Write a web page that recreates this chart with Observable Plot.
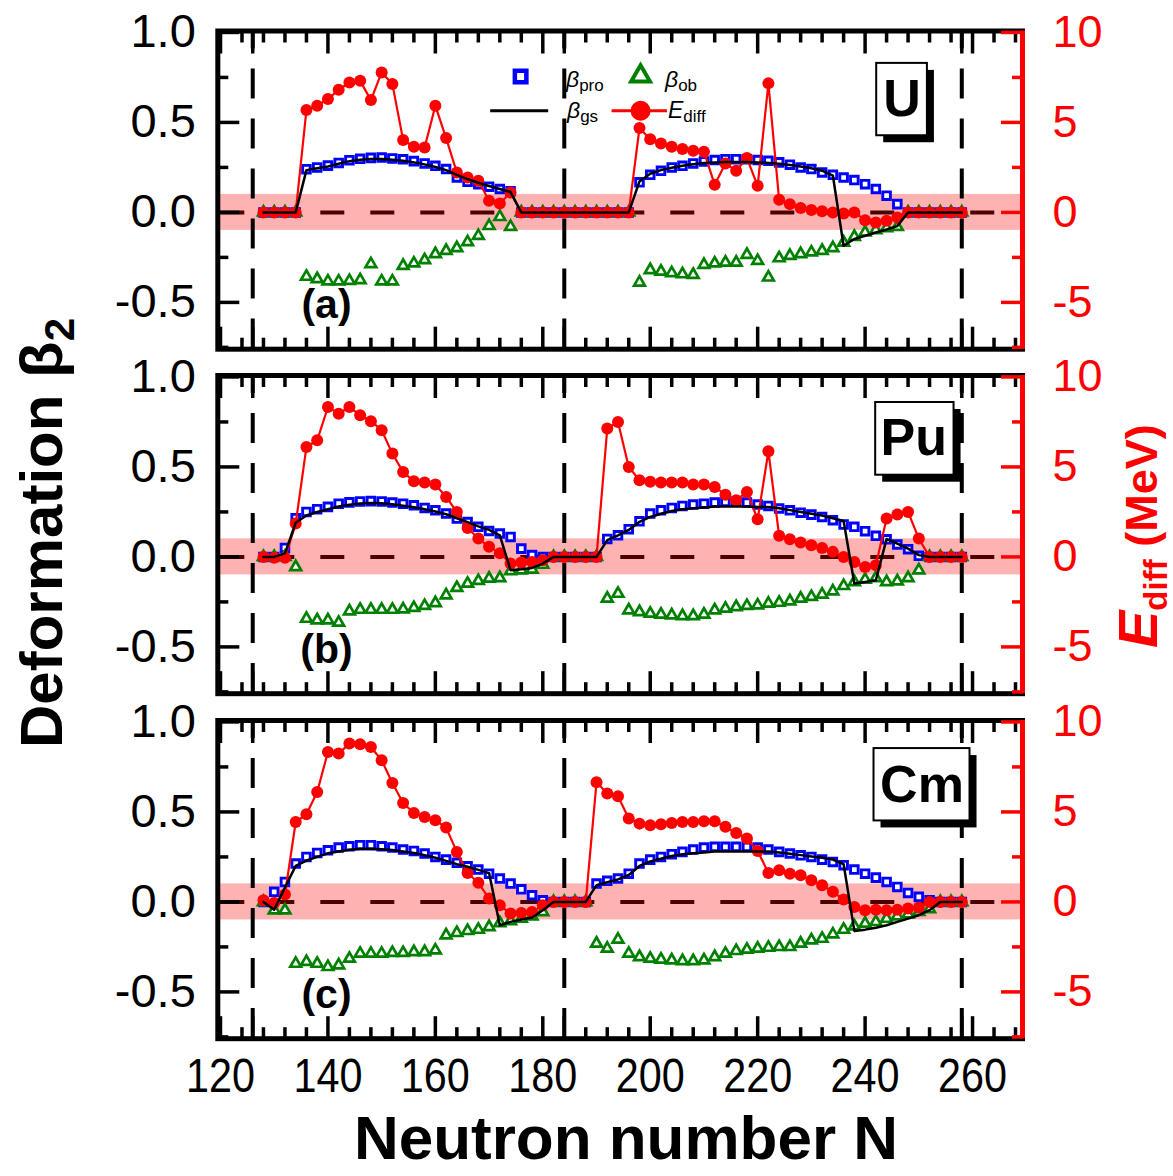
<!DOCTYPE html>
<html>
<head>
<meta charset="utf-8">
<script src="https://cdn.jsdelivr.net/npm/d3@7"></script>
<script src="https://cdn.jsdelivr.net/npm/@observablehq/plot@0.6"></script>
<style>
  html, body { margin: 0; padding: 0; background: #fff; }
  #fig { position: relative; width: 1173px; height: 1176px; overflow: hidden; background: #fff; }
</style>
</head>
<body>
<div id="fig"></div>
<script>
// ---------------- data ----------------
const N = [128,130,132,134,136,138,140,142,144,146,148,150,152,154,156,158,160,162,164,166,168,170,172,174,176,178,180,182,184,186,188,190,192,194,196,198,200,202,204,206,208,210,212,214,216,218,220,222,224,226,228,230,232,234,236,238,240,242,244,246,248,250,252,254,256,258];

// U (Z=92)
const U_pro = [0,0,0,0,
  .240,.250,.260,.275,.290,.298,.303,.305,.300,.295,.285,.272,.259,.241,.194,.170,.157,.143,.130,.118,
  0,0,0,0,0,0,0,0,0,0,0,
  .167,.209,.231,.250,.259,.272,.283,.291,.296,.296,.296,.291,.287,.278,.265,.250,.241,.222,.209,.194,.180,.157,.130,.093,.046,
  0,0,0,0,0,0];
const U_gs = [0,0,0,0,
  .235,.245,.255,.270,.285,.292,.297,.297,.292,.287,.278,.267,.252,.235,.209,.185,.165,.147,.130,.113,
  0,0,0,0,0,0,0,0,0,0,0,
  .172,.215,.235,.248,.259,.267,.274,.278,.280,.280,.280,.278,.275,.270,.263,.255,.245,.232,.205,-.185,-.148,-.130,-.112,-.095,-.076,
  0,0,0,0,0,0];
const U_ob = [0,0,0,0,
  -.357,-.370,-.383,-.383,-.380,-.376,-.287,-.383,-.383,-.296,-.283,-.265,-.231,-.213,-.198,-.165,-.130,-.075,-.025,-.080,
  0,0,0,0,0,0,0,0,0,0,0,
  -.389,-.320,-.328,-.337,-.343,-.346,-.291,-.283,-.278,-.278,-.235,-.269,-.361,-.254,-.241,-.231,-.222,-.213,-.198,-.167,-.135,-.111,-.098,-.087,-.080,
  0,0,0,0,0,0];
const U_E = [0,0,0,0,
  5.69,5.93,6.30,6.81,7.22,7.31,6.24,7.78,7.13,4.02,3.65,3.61,5.93,4.13,2.22,1.94,1.76,0.65,0.50,1.11,
  0,0,0,0,0,0,0,0,0,0,0,
  4.69,4.07,3.83,3.65,3.52,3.43,3.37,1.54,2.72,2.31,3.02,1.48,7.17,0.70,0.46,0.24,0.13,0.06,0.00,-0.06,0.00,-0.43,-0.56,-0.46,-0.28,
  0,0,0,0,0,0];

// Pu (Z=94)
const Pu_pro = [0,0,.050,.215,
  .250,.265,.278,.296,.303,.308,.310,.308,.302,.296,.287,.272,.259,.241,.213,.194,.167,.144,.130,.111,
  .046,.010,0,0,0,0,0,0,
  .100,.120,.154,.198,.241,.259,.272,.283,.291,.296,.302,.306,.306,.302,.291,.283,.269,.259,.246,.235,.222,.204,.180,.167,.143,.117,.098,.069,.043,.006,
  0,0,0,0];
const Pu_gs = [0,0,.020,.190,
  .230,.250,.265,.280,.290,.297,.300,.298,.292,.285,.276,.265,.252,.237,.215,.193,.170,.150,.120,-.074,
  -.069,-.061,-.037,0,0,0,0,0,
  .093,.120,.150,.195,.222,.240,.255,.265,.270,.275,.280,.280,.280,.280,.278,.277,.270,.260,.250,.240,.230,.215,.200,-.148,-.139,-.130,.100,.074,.046,.010,
  0,0,0,0];
const Pu_ob = [0,0,0,-.056,
  -.343,-.352,-.352,-.365,-.302,-.293,-.293,-.293,-.293,-.291,-.283,-.272,-.256,-.213,-.172,-.148,-.133,-.120,-.117,-.078,
  -.074,-.070,-.043,0,0,0,0,0,
  -.231,-.204,-.296,-.306,-.315,-.320,-.324,-.328,-.328,-.320,-.296,-.287,-.278,-.272,-.269,-.259,-.254,-.246,-.231,-.222,-.209,-.191,-.161,-.139,-.126,-.117,-.139,-.135,-.117,-.074,
  0,0,0,0];
const Pu_E = [0,-0.05,-0.05,1.85,
  6.11,6.48,8.33,7.96,8.33,7.87,7.54,7.04,5.74,4.72,4.20,4.13,4.02,3.33,2.50,1.61,1.02,0.56,0.20,-0.37,
  -0.31,-0.28,-0.18,0,0,0,0,0,
  7.13,7.50,5.00,4.26,4.17,4.13,4.13,4.13,4.02,4.02,3.89,3.46,3.15,3.61,2.09,5.87,1.17,0.98,0.80,0.65,0.50,0.28,0.00,-0.28,-0.56,-0.46,2.13,2.35,2.50,1.02,
  0,0,0,0];

// Cm (Z=96)
const Cm_pro = [0,.056,.111,.213,
  .250,.272,.287,.302,.309,.315,.315,.309,.302,.291,.283,.269,.250,.235,.217,.198,.180,.157,.130,.102,
  .070,.037,.009,0,0,0,0,
  .102,.117,.130,.157,.213,.235,.250,.265,.278,.291,.302,.306,.306,.306,.306,.302,.291,.278,.269,.259,.250,.235,.222,.204,.180,.157,.135,.111,.083,.050,.028,.009,
  0,0,0];
const Cm_gs = [0,-.043,.080,.200,
  .230,.250,.270,.280,.290,.295,.295,.293,.288,.280,.272,.260,.245,.228,.210,.195,.178,.160,-.130,-.111,
  -.098,-.087,-.046,0,0,0,0,
  .093,.110,.125,.150,.200,.225,.240,.255,.265,.270,.275,.280,.280,.280,.280,.280,.280,.275,.268,.260,.252,.245,.235,.210,-.161,-.154,-.143,-.130,-.111,-.093,-.074,-.046,
  0,0,0];
const Cm_ob = [0,-.046,-.046,-.343,
  -.333,-.343,-.361,-.352,-.315,-.287,-.287,-.287,-.283,-.283,-.278,-.278,-.269,-.185,-.172,-.161,-.154,-.139,-.117,-.106,
  -.093,-.080,-.056,0,0,0,0,
  -.231,-.259,-.209,-.287,-.306,-.315,-.320,-.324,-.328,-.328,-.324,-.306,-.287,-.272,-.265,-.259,-.254,-.250,-.250,-.231,-.213,-.204,-.180,-.154,-.135,-.120,-.111,-.093,-.080,-.069,-.055,-.040,
  0,0,0];
const Cm_E = [0.09,-0.06,0.41,4.44,
  4.87,6.11,8.33,8.24,8.80,8.76,8.61,7.87,6.61,5.50,4.94,4.72,4.54,4.13,2.78,1.61,1.06,0.19,-0.19,-0.65,
  -0.61,-0.56,-0.19,0,0,0,0,
  6.65,6.02,5.87,4.63,4.35,4.26,4.31,4.39,4.44,4.44,4.48,4.48,4.17,3.83,3.52,2.83,1.61,1.76,1.57,1.48,1.20,0.93,0.56,0.13,-0.28,-0.46,-0.43,-0.46,-0.43,-0.37,-0.31,0.00,
  0,0,0];

// reference lines / ticks
const magicN = [126, 184, 258];
const bandHalf = 0.1;           // +/- 1 MeV band (in beta units)
const eScale = 10;              // right axis: E = 10 * beta
const xLabelTicks = [120,140,160,180,200,220,240,260];
const xMajorTicks = [120,126,140,160,180,184,200,220,240,258,260];
const xMinorTicks = [124,128,132,136,144,148,152,156,164,168,172,176,188,192,196,204,208,212,216,224,228,232,236,244,248,252,256,264,268];
const yMajorTicks = [-0.5, 0, 0.5, 1.0];
const yMinorTicks = [-0.75, -0.25, 0.25, 0.75];

// ---------------- layout ----------------
const FONT = '"Liberation Sans", Arial, Helvetica, sans-serif';
const W = 1173;
const xDomain = [119.5, 269.3];
const yDomain = [-0.76, 1.008];
const frameH = 318.2;
const mL = 217.3, mR = W - 1022;
const fig = document.getElementById("fig");

const panels = [
  {letter: "(a)", pro: U_pro, gs: U_gs, ob: U_ob, E: U_E, top: 0, mt: 30.5, mb: 20, legend: true,
   box: {label: "U", x1: 242.16, x2: 251.6, y1: 0.426, y2: 0.828, cx: 246.89, cy: 0.626}},
  {letter: "(b)", pro: Pu_pro, gs: Pu_gs, ob: Pu_ob, E: Pu_E, top: 345, mt: 30, mb: 20,
   box: {label: "Pu", x1: 241.97, x2: 256.56, y1: 0.454, y2: 0.858, cx: 249.05, cy: 0.659}},
  {letter: "(c)", pro: Cm_pro, gs: Cm_gs, ob: Cm_ob, E: Cm_E, top: 690, mt: 30, mb: 137.8, xLabels: true,
   box: {label: "Cm", x1: 241.66, x2: 259.53, y1: 0.450, y2: 0.852, cx: 250.59, cy: 0.648}}
];

const legendPos = {
  pro: {x: 175.87, y: 0.755},
  ob: {x: 198.2, y: 0.757},
  gs: {x1: 170.3, x2: 181.1, y: 0.565},
  E: {x1: 192.9, x2: 203.2, cx: 198.2, y: 0.565}
};

function tickAxes() {
  const tw = 3.5;
  const none = () => "";
  return [
    Plot.axisX(xMajorTicks, {anchor: "top", tickSize: 22, dy: 22, tickFormat: none, label: null, strokeWidth: tw}),
    Plot.axisX(xMinorTicks, {anchor: "top", tickSize: 11, dy: 11, tickFormat: none, label: null, strokeWidth: tw}),
    Plot.axisX(xMajorTicks, {anchor: "bottom", tickSize: 22, dy: -22, tickFormat: none, label: null, strokeWidth: tw}),
    Plot.axisX(xMinorTicks, {anchor: "bottom", tickSize: 11, dy: -11, tickFormat: none, label: null, strokeWidth: tw}),
    Plot.axisY(yMajorTicks, {anchor: "left", tickSize: 22, dx: 22, tickFormat: none, label: null, strokeWidth: tw}),
    Plot.axisY(yMinorTicks, {anchor: "left", tickSize: 11, dx: 11, tickFormat: none, label: null, strokeWidth: tw}),
    Plot.ruleX([xDomain[1]], {stroke: "#ff0000", strokeWidth: 5}),
    Plot.axisY(yMajorTicks, {anchor: "right", tickSize: 22, dx: -22, tickFormat: none, label: null, stroke: "#ff0000", strokeWidth: tw}),
    Plot.axisY(yMinorTicks, {anchor: "right", tickSize: 11, dx: -11, tickFormat: none, label: null, stroke: "#ff0000", strokeWidth: tw}),
    Plot.axisY(yMajorTicks, {anchor: "left", tickSize: 0, tickPadding: 22, tickFormat: d => d.toFixed(1), label: null, fontSize: 47, fill: "black"}),
    Plot.axisY(yMajorTicks, {anchor: "right", tickSize: 0, tickPadding: 30, tickFormat: d => String(Math.round(d * eScale)), label: null, fontSize: 45, fill: "#ff0000"})
  ];
}

for (const p of panels) {
  const rows = N.map((n, i) => ({N: n, pro: p.pro[i], gs: p.gs[i], ob: p.ob[i], E: p.E[i]}));
  const marks = [
    Plot.ruleY([0], {stroke: "black", strokeWidth: 4, strokeDasharray: "24,26", strokeDashoffset: -3}),
    Plot.rect([0], {y1: -bandHalf, y2: bandHalf, fill: "#ff0000", fillOpacity: 0.3}),
    Plot.ruleX(magicN, {stroke: "black", strokeWidth: 4, strokeDasharray: "30,20", strokeDashoffset: 12}),
    Plot.dot(rows, {x: "N", y: "pro", symbol: "square", r: 4.3, stroke: "#0000ff", strokeWidth: 2.9, fill: "white"}),
    Plot.dot(rows, {x: "N", y: "ob", symbol: "triangle", r: 4.0, stroke: "#008000", strokeWidth: 2.7, fill: "white"}),
    Plot.line(rows, {x: "N", y: d => d.E / eScale, stroke: "#ff0000", strokeWidth: 2.2}),
    Plot.dot(rows, {x: "N", y: d => d.E / eScale, r: 6, fill: "#ff0000"}),
    Plot.line(rows, {x: "N", y: "gs", stroke: "black", strokeWidth: 2.5}),
    Plot.frame({stroke: "black", strokeWidth: 5}),
    ...tickAxes(),
    Plot.text([p.letter], {frameAnchor: "bottom-left", textAnchor: "middle", lineAnchor: "middle", dx: 108.7, dy: -44, text: d => d, fontSize: 41, fontWeight: "bold", fill: "black"}),
    Plot.rect([p.box], {x1: "x1", x2: "x2", y1: "y1", y2: "y2", fill: "black", dx: 7, dy: 7}),
    Plot.rect([p.box], {x1: "x1", x2: "x2", y1: "y1", y2: "y2", fill: "white", stroke: "black", strokeWidth: 2}),
    Plot.text([p.box], {x: "cx", y: "cy", text: "label", fontSize: 52, fontWeight: "bold", fill: "black"})
  ];
  if (p.legend) {
    marks.push(
      Plot.dot([legendPos.pro], {x: "x", y: "y", symbol: "square", r: 6.5, stroke: "#0000ff", strokeWidth: 4.5, fill: "white"}),
      Plot.dot([legendPos.ob], {x: "x", y: "y", symbol: "triangle", r: 7, stroke: "#008000", strokeWidth: 4, fill: "white"}),
      Plot.ruleY([legendPos.gs], {y: "y", x1: "x1", x2: "x2", stroke: "black", strokeWidth: 3}),
      Plot.ruleY([legendPos.E], {y: "y", x1: "x1", x2: "x2", stroke: "#ff0000", strokeWidth: 3}),
      Plot.dot([legendPos.E], {x: "cx", y: "y", r: 10, fill: "#ff0000"})
    );
  }
  if (p.xLabels) {
    marks.push(Plot.axisX(xLabelTicks, {anchor: "bottom", tickSize: 0, tickPadding: 18.5, tickFormat: d => String(d), label: null, fontSize: 49, fill: "black"}));
  }
  const svg = Plot.plot({
    width: W,
    height: p.mt + frameH + p.mb,
    marginTop: p.mt, marginBottom: p.mb, marginLeft: mL, marginRight: mR,
    x: {domain: xDomain},
    y: {domain: yDomain},
    style: {background: "transparent", overflow: "visible", fontFamily: FONT, color: "black"},
    marks
  });
  svg.style.position = "absolute";
  svg.style.left = "0px";
  svg.style.top = p.top + "px";
  if (p.xLabels) {
    svg.querySelectorAll('g[aria-label="x-axis tick label"] text').forEach(t => {
      t.setAttribute("textLength", 69);
      t.setAttribute("lengthAdjust", "spacingAndGlyphs");
    });
  }
  fig.appendChild(svg);
}

// ---------------- overlay text (titles + legend labels) ----------------
const ov = d3.select("#fig").append("svg")
  .attr("width", W).attr("height", 1176)
  .style("position", "absolute").style("left", "0px").style("top", "0px")
  .style("pointer-events", "none").style("overflow", "visible")
  .attr("font-family", FONT);

function legendLabel(x, y, main, sub) {
  const t = ov.append("text").attr("x", x).attr("y", y).attr("font-size", 23).attr("fill", "black");
  t.append("tspan").attr("font-style", "italic").text(main);
  t.append("tspan").attr("font-size", 17).attr("dy", 4).text(sub);
}
legendLabel(566, 87, "β", "pro");
legendLabel(665, 87, "β", "ob");
legendLabel(567, 118, "β", "gs");
legendLabel(668, 118, "E", "diff");

const lt = ov.append("text")
  .attr("transform", "translate(62,533) rotate(-90)")
  .attr("text-anchor", "middle").attr("font-size", 60).attr("font-weight", "bold").attr("fill", "black");
lt.append("tspan").text("Deformation β");
lt.append("tspan").attr("font-size", 42).attr("dy", 12).text("2");

const rt = ov.append("text")
  .attr("transform", "translate(1157,648) rotate(-90)")
  .attr("fill", "#ff0000").attr("font-weight", "bold");
rt.append("tspan").attr("font-size", 56).attr("font-style", "italic").text("E");
rt.append("tspan").attr("font-size", 33).attr("dy", 10).text("diff");
rt.append("tspan").attr("font-size", 45).attr("dy", -10).text(" (MeV)");

ov.append("text").attr("x", 626).attr("y", 1159).attr("text-anchor", "middle")
  .attr("font-size", 62).attr("font-weight", "bold").attr("fill", "black")
  .text("Neutron number N");
</script>
</body>
</html>
